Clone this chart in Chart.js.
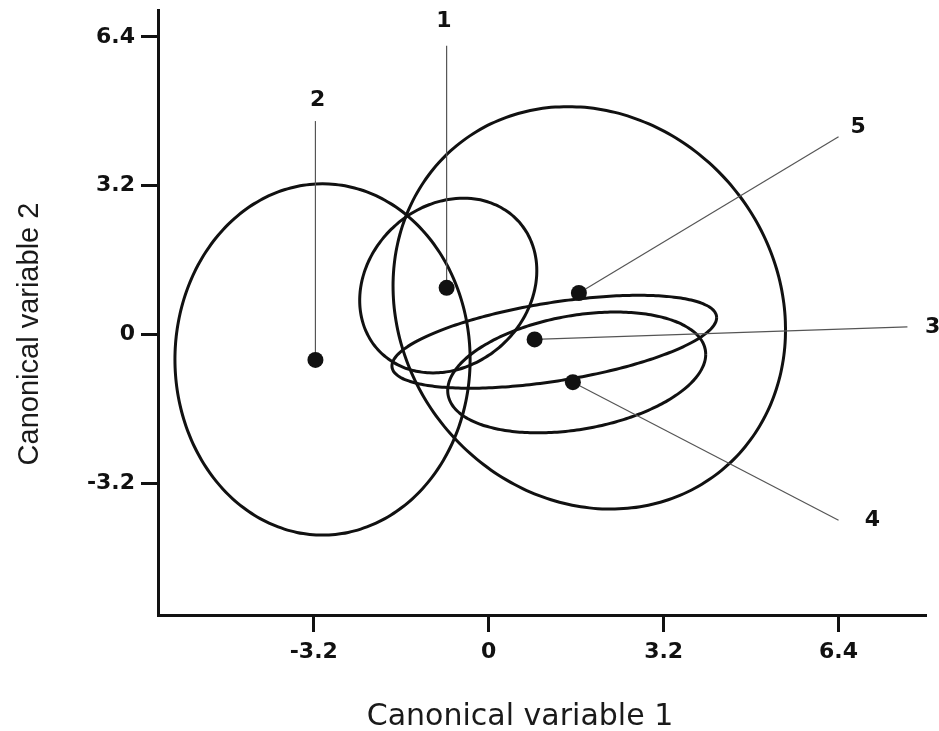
<!DOCTYPE html>
<html>
<head>
<meta charset="utf-8">
<title>Canonical variables</title>
<script src="https://cdn.jsdelivr.net/npm/chart.js@4.4.1/dist/chart.umd.min.js"></script>
<style>
    html, body { margin: 0; padding: 0; background: #fff; }
</style>
</head>
<body>
<canvas id="cvaChart" width="939" height="731"></canvas>
<script>
// group centroids
var groups = ['1', '2', '3', '4', '5'];
var centroidX = [-0.77, -3.17, 0.84, 1.54, 1.65];
var centroidY = [1.00, -0.55, -0.11, -1.03, 0.89];

// leader lines: from centroid to these ends, label sits beyond
var leaderX = [-0.77, -3.17, 7.66, 6.40, 6.40];
var leaderY = [6.21, 4.59, 0.16, -4.00, 4.25];
var labelX = [-0.82, -3.13, 8.12, 7.02, 6.76];
var labelY = [6.74, 5.04, 0.16, -4.00, 4.46];

// confidence ellipses per group: centre, half width, half height,
// and lean = y offset (from centre) of the rightmost point
var ellCx = [-0.74, -3.04, 1.20, 1.61, 1.84];
var ellCy = [1.05, -0.54, -0.16, -0.82, 0.57];
var ellRx = [1.62, 2.70, 2.97, 2.36, 3.59];
var ellRy = [1.88, 3.78, 1.00, 1.30, 4.33];
var ellLean = [0.32, 0.0, 0.52, 0.39, -0.47];

var xTicks = [-3.2, 0, 3.2, 6.4];
var yTicks = [-3.2, 0, 3.2, 6.4];
var xTitle = 'Canonical variable 1';
var yTitle = 'Canonical variable 2';

var INK = '#111';
var STEPS = 144;

// outline of ellipse i, traced through the chart's own scales
function ellipsePath(i) {
    var pts = [];
    var b = Math.sqrt(ellRy[i] * ellRy[i] - ellLean[i] * ellLean[i]);
    for (var k = 0; k <= STEPS; k++) {
        var t = 2 * Math.PI * k / STEPS;
        pts.push({
            x: ellCx[i] + ellRx[i] * Math.cos(t),
            y: ellCy[i] + ellLean[i] * Math.cos(t) + b * Math.sin(t)
        });
    }
    return pts;
}

var datasets = [];

// centroids on top
var centroidPts = [];
for (var i = 0; i < groups.length; i++) centroidPts.push({ x: centroidX[i], y: centroidY[i] });
datasets.push({
    data: centroidPts,
    pointRadius: 8,
    pointBackgroundColor: INK,
    pointBorderWidth: 0,
    showLine: false
});

for (var i = 0; i < groups.length; i++) {
    datasets.push({
        data: [{ x: centroidX[i], y: centroidY[i] }, { x: leaderX[i], y: leaderY[i] }],
        showLine: true,
        borderColor: '#555',
        borderWidth: 1.2,
        pointRadius: 0
    });
}

for (var i = 0; i < ellCx.length; i++) {
    datasets.push({
        data: ellipsePath(i),
        showLine: true,
        borderColor: INK,
        borderWidth: 3,
        borderJoinStyle: 'round',
        pointRadius: 0,
        tension: 0.2, // also keeps Chart.js off its fast path, which spikes at the x extremes
        fill: false
    });
}

// group numbers and axis titles
var annotate = {
    id: 'annotate',
    afterDraw: function (chart) {
        var ctx = chart.ctx, xs = chart.scales.x, ys = chart.scales.y;
        ctx.save();
        ctx.fillStyle = INK;
        ctx.textAlign = 'center';
        ctx.textBaseline = 'middle';
        ctx.font = 'bold 22px "DejaVu Sans"';
        for (var i = 0; i < groups.length; i++) {
            ctx.fillText(groups[i], xs.getPixelForValue(labelX[i]), ys.getPixelForValue(labelY[i]));
        }
        ctx.fillStyle = '#1a1a1a';
        ctx.textBaseline = 'alphabetic';
        ctx.font = '30px "DejaVu Sans"';
        ctx.fillText(xTitle, 520, 725);
        ctx.translate(38, 334);
        ctx.rotate(-Math.PI / 2);
        ctx.font = '29px "Liberation Sans"';
        ctx.fillText(yTitle, 0, 0);
        ctx.restore();
    }
};

function tickLabel(v) {
    return v === 0 ? '0' : v.toFixed(1);
}

var tickFont = { family: '"DejaVu Sans", Verdana, sans-serif', weight: 'bold', size: 22 };

new Chart(document.getElementById('cvaChart'), {
    type: 'scatter',
    data: { datasets: datasets },
    options: {
        responsive: false,
        animation: false,
        layout: { padding: { top: 10, right: 13, left: 0, bottom: 0 } },
        plugins: { legend: { display: false }, tooltip: { enabled: false } },
        scales: {
            x: {
                type: 'linear',
                min: -6.05,
                max: 8,
                afterBuildTicks: function (s) { s.ticks = xTicks.map(function (v) { return { value: v }; }); },
                afterFit: function (s) { s.height = 116; s.paddingLeft = 0; s.paddingRight = 0; },
                ticks: { autoSkip: false, maxRotation: 0, padding: 7, color: INK, font: tickFont, callback: tickLabel },
                grid: { display: true, drawOnChartArea: false, drawTicks: true, tickLength: 17, tickWidth: 3, tickColor: INK },
                border: { display: true, color: INK, width: 3 },
                title: { display: false }
            },
            y: {
                type: 'linear',
                min: -6.04,
                max: 6.98,
                afterBuildTicks: function (s) { s.ticks = yTicks.map(function (v) { return { value: v }; }); },
                afterFit: function (s) { s.width = 158; s.paddingTop = 0; s.paddingBottom = 0; },
                ticks: { autoSkip: false, padding: 6, color: INK, font: tickFont, callback: tickLabel },
                grid: { display: true, drawOnChartArea: false, drawTicks: true, tickLength: 17, tickWidth: 3, tickColor: INK },
                border: { display: true, color: INK, width: 3 },
                title: { display: false }
            }
        }
    },
    plugins: [annotate]
});
</script>
</body>
</html>
